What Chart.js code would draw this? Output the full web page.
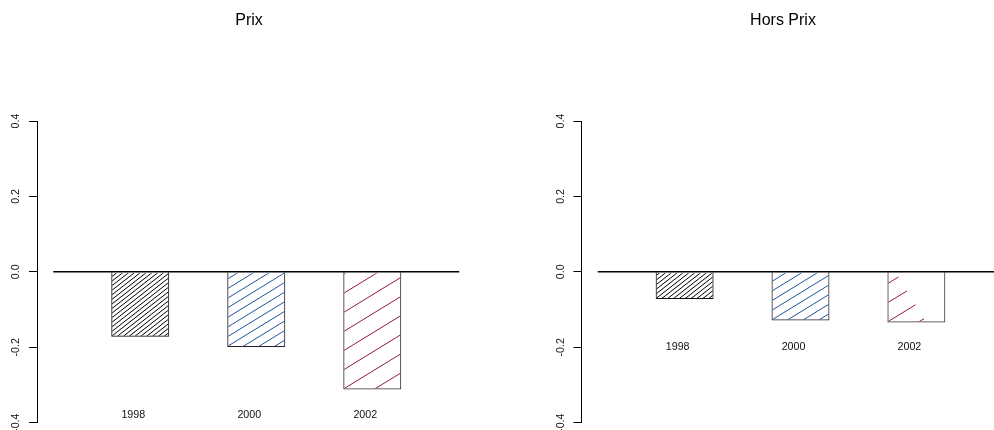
<!DOCTYPE html>
<html>
<head>
<title>Prix / Hors Prix</title>
<script src="https://cdn.jsdelivr.net/npm/chart.js@4.4.1/dist/chart.umd.min.js"></script>
<style>
  body { margin: 0; background: #fff; }
  #wrap { position: relative; width: 994px; height: 430px; overflow: hidden; }
  canvas { position: absolute; top: 0; }
</style>
</head>
<body>
<div id="wrap">
  <canvas id="prix" width="497" height="430" style="left:0px"></canvas>
  <canvas id="horsPrix" width="478" height="430" style="left:544px"></canvas>
</div>
<script>
const years = ['1998', '2000', '2002'];
const prixValues = [-0.172, -0.199, -0.312];
const horsPrixValues = [-0.072, -0.129, -0.134];
const yTicks = [-0.4, -0.2, 0, 0.2, 0.4];

const FONT = '"Liberation Sans", Arial, sans-serif';

// hachures façon barplot(density=..., angle=...)
const hatch = [
  { color: '#000000', gap: 3.6, angle: 38 },
  { color: '#1f549c', gap: 8.2, angle: 31.5 },
  { color: '#961650', gap: 16.3, angle: 31.5 }
];
const barBorders = ['#111', '#222', '#333'];

// position des barres comme dans barplot (width=1, space=1)
const barPos = i => 1.5 + 2 * i;

function drawHatch(ctx, left, top, right, bottom, h) {
  const a = h.angle * Math.PI / 180;
  const nx = Math.sin(a), ny = Math.cos(a);   // normale aux hachures
  const dx = Math.cos(a), dy = -Math.sin(a);  // direction des hachures
  const corners = [[left, top], [right, top], [left, bottom], [right, bottom]];
  const cs = corners.map(p => p[0] * nx + p[1] * ny);
  const cMin = Math.min(...cs), cMax = Math.max(...cs);
  const len = Math.hypot(right - left, bottom - top) * 2 + 10;
  ctx.save();
  ctx.beginPath();
  ctx.rect(left, top, right - left, bottom - top);
  ctx.clip();
  ctx.strokeStyle = h.color;
  ctx.lineWidth = 1;
  ctx.beginPath();
  // les hachures partent du coin bas-gauche de la barre
  const c0 = left * nx + bottom * ny;
  for (let c = c0 - Math.ceil((c0 - cMin) / h.gap) * h.gap; c <= cMax + h.gap; c += h.gap) {
    const px = c * nx, py = c * ny;
    ctx.moveTo(px - dx * len, py - dy * len);
    ctx.lineTo(px + dx * len, py + dy * len);
  }
  ctx.stroke();
  ctx.restore();
}

const hatchPlugin = {
  id: 'hatchPlugin',
  afterDatasetDraw(chart, args) {
    if (args.meta.type !== 'bar') return;
    const ctx = chart.ctx;
    args.meta.data.forEach((bar, i) => {
      const p = bar.getProps(['x', 'y', 'base', 'width']);
      const left = p.x - p.width / 2 + 1, right = p.x + p.width / 2 - 1;
      const top = Math.min(p.y, p.base) + 1, bottom = Math.max(p.y, p.base) - 1;
      drawHatch(ctx, left, top, right, bottom, hatch[i]);
    });
  }
};

const textPlugin = {
  id: 'textPlugin',
  afterDraw(chart, args, opts) {
    const { ctx, chartArea, scales: { x, y } } = chart;
    ctx.save();
    ctx.fillStyle = '#111';
    ctx.font = '10.7px ' + FONT;
    ctx.textAlign = 'center';
    ctx.textBaseline = 'middle';
    // étiquettes de l'axe y, verticales comme en R
    y.ticks.forEach(t => {
      ctx.save();
      ctx.translate(chartArea.left - 20.5, y.getPixelForValue(t.value));
      ctx.rotate(-Math.PI / 2);
      ctx.fillText(t.value.toFixed(1), 0, 0);
      ctx.restore();
    });
    // années sous les barres
    years.forEach((yr, i) => {
      ctx.fillText(yr, x.getPixelForValue(barPos(i) - 0.12), y.getPixelForValue(opts.labelY));
    });
    ctx.restore();
  }
};

function makePanel(id, title, values, o) {
  return new Chart(document.getElementById(id), {
    data: {
      datasets: [
        {
          type: 'bar',
          data: values.map((v, i) => ({ x: barPos(i), y: v })),
          backgroundColor: 'rgba(0,0,0,0)',
          borderColor: barBorders,
          borderWidth: 1,
          barPercentage: 0.5,
          categoryPercentage: 1,
          order: 1
        },
        {
          type: 'line',
          data: [{ x: 0, y: 0 }, { x: 7, y: 0 }],
          borderColor: '#000',
          borderWidth: 1.5,
          pointRadius: 0,
          order: 0
        }
      ]
    },
    options: {
      responsive: false,
      animation: false,
      layout: { padding: { left: o.padL, right: o.padR, top: 0, bottom: 7.3 } },
      scales: {
        x: {
          type: 'linear',
          min: -0.28,
          max: 7.28,
          offset: false,
          display: false,
          afterBuildTicks: s => { s.ticks = values.map((v, i) => ({ value: barPos(i) })); }
        },
        y: {
          type: 'linear',
          min: -0.4,
          max: 0.4,
          afterBuildTicks: s => { s.ticks = yTicks.map(v => ({ value: v })); },
          afterFit: s => { s.width = o.axisW; },
          ticks: { display: false },
          grid: { drawOnChartArea: false, tickLength: 8, color: '#000', lineWidth: 1 },
          border: { display: true, color: '#000', width: 1 }
        }
      },
      plugins: {
        legend: { display: false },
        tooltip: { enabled: false },
        title: {
          display: true,
          text: title,
          color: '#000',
          font: { family: FONT, size: 16, weight: 'normal', lineHeight: 1.2 },
          padding: { top: 11.4, bottom: 90.4 }
        },
        textPlugin: { labelY: o.labelY }
      }
    },
    plugins: [hatchPlugin, textPlugin]
  });
}

makePanel('prix', 'Prix', prixValues, { padL: 22.5, padR: 21.5, axisW: 14.5, labelY: -0.38 });
makePanel('horsPrix', 'Hors Prix', horsPrixValues, { padL: 2.5, padR: 2.5, axisW: 35, labelY: -0.2 });
</script>
</body>
</html>
